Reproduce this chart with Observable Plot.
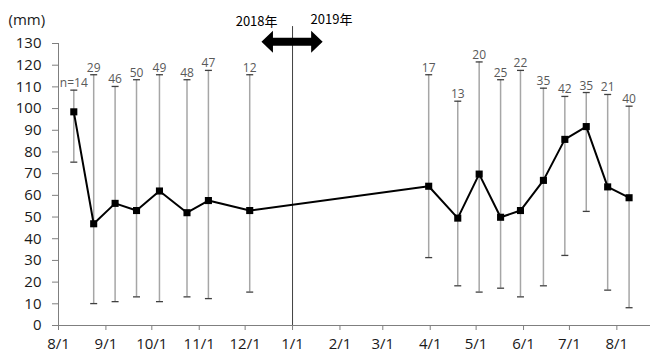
<!DOCTYPE html>
<html>
<head>
<meta charset="utf-8">
<script src="https://cdn.jsdelivr.net/npm/d3@7"></script>
<script src="https://cdn.jsdelivr.net/npm/@observablehq/plot@0.6"></script>
<style>
  body { margin: 0; background: #fff; }
</style>
</head>
<body>
<div id="chart"></div>
<script>
// Survey dates, mean depth (mm), range of readings, and number of samples
const dates = ["2018-08-11", "2018-08-24", "2018-09-07", "2018-09-21", "2018-10-06", "2018-10-24",
  "2018-11-07", "2018-12-04", "2019-03-31", "2019-04-19", "2019-05-03", "2019-05-17",
  "2019-05-30", "2019-06-14", "2019-06-28", "2019-07-12", "2019-07-26", "2019-08-09"];
const means = [98.5, 46.9, 56.3, 53.0, 62.0, 52.0, 57.6, 53.0, 64.2, 49.5, 69.8, 49.9,
  53.0, 66.9, 85.8, 91.7, 63.9, 58.9];
const highs = [108.5, 115.6, 110.2, 113.3, 115.6, 113.3, 117.6, 115.6, 115.6, 103.4, 121.5, 113.3,
  117.6, 109.4, 105.6, 107.4, 106.5, 101.1];
const lows = [75.3, 10.1, 11.0, 13.2, 11.0, 13.2, 12.4, 15.4, 31.3, 18.3, 15.4, 17.2,
  13.2, 18.3, 32.3, 52.6, 16.3, 8.2];
const counts = ["n=14", "29", "46", "50", "49", "48", "47", "12", "17", "13", "20", "25",
  "22", "35", "42", "35", "21", "40"];

// Axis ticks
const monthTicks = ["2018-08-01", "2018-09-01", "2018-10-01", "2018-11-01", "2018-12-01",
  "2019-01-01", "2019-02-01", "2019-03-01", "2019-04-01", "2019-05-01", "2019-06-01",
  "2019-07-01", "2019-08-01"];
const yTicks = [0, 10, 20, 30, 40, 50, 60, 70, 80, 90, 100, 110, 120, 130];

// Year boundary annotation
const yearBoundary = "2019-01-01";
const yearLabels = ["2018年", "2019年"];
const arrowSpan = ["2018-12-12", "2019-01-21"];
const arrowLevel = 130.6;

const parse = d3.utcParse("%Y-%m-%d");
const rows = dates.map((d, i) => ({
  date: parse(d), mean: means[i], high: highs[i], low: lows[i], n: counts[i]
}));
const domainX = [parse("2018-08-01"), parse("2019-08-23")];

// Short horizontal cap for the ends of the range bars
const capSymbol = {
  draw(ctx) { ctx.moveTo(-3.5, 0); ctx.lineTo(3.5, 0); }
};

// Solid double-headed arrow between two dates
function doubleArrow(index, scales) {
  const xa = scales.x(parse(arrowSpan[0]));
  const xb = scales.x(parse(arrowSpan[1]));
  const y = scales.y(arrowLevel);
  const head = 11.5, hh = 11, sh = 4;
  const path = d3.path();
  path.moveTo(xa, y);
  path.lineTo(xa + head, y - hh);
  path.lineTo(xa + head, y - sh);
  path.lineTo(xb - head, y - sh);
  path.lineTo(xb - head, y - hh);
  path.lineTo(xb, y);
  path.lineTo(xb - head, y + hh);
  path.lineTo(xb - head, y + sh);
  path.lineTo(xa + head, y + sh);
  path.lineTo(xa + head, y + hh);
  path.closePath();
  const el = document.createElementNS("http://www.w3.org/2000/svg", "path");
  el.setAttribute("d", path.toString());
  el.setAttribute("fill", "#000");
  return el;
}

const chart = Plot.plot({
  width: 650,
  height: 352,
  marginLeft: 58,
  marginRight: 0,
  marginTop: 43,
  marginBottom: 27,
  style: { fontFamily: "'Open Sans', sans-serif", background: "#fff", overflow: "visible" },
  x: { type: "utc", domain: domainX },
  y: { domain: [0, 130] },
  marks: [
    Plot.axisY({ ticks: yTicks, tickSize: 6, tickPadding: 11, fontSize: 15, label: null,
      stroke: "#7f7f7f", fill: "#1a1a1a" }),
    Plot.axisX({ ticks: monthTicks.map(parse), tickFormat: d3.utcFormat("%-m/%-d"),
      tickSize: 5, tickPadding: 8, fontSize: 15, label: null, stroke: "#7f7f7f", fill: "#1a1a1a" }),
    Plot.ruleY([0], { stroke: "#7f7f7f" }),
    Plot.ruleX([domainX[0]], { y1: 0, y2: 130, stroke: "#7f7f7f" }),
    Plot.text(["(mm)"], { frameAnchor: "top-left", dx: -50, dy: -23, textAnchor: "start",
      lineAnchor: "middle", fontSize: 15, fill: "#1a1a1a" }),

    // year boundary
    Plot.ruleX([parse(yearBoundary)], { y1: 0, y2: 137.8, stroke: "#404040", strokeWidth: 1 }),
    Plot.text([yearLabels[0]], { x: () => parse(yearBoundary), y: () => 140, dx: -15,
      textAnchor: "end", lineAnchor: "middle", fontSize: 13,
      fontFamily: "'Noto Sans CJK JP', sans-serif", fill: "#000" }),
    Plot.text([yearLabels[1]], { x: () => parse(yearBoundary), y: () => 141, dx: 18,
      textAnchor: "start", lineAnchor: "middle", fontSize: 13,
      fontFamily: "'Noto Sans CJK JP', sans-serif", fill: "#000" }),
    doubleArrow,

    // range bars
    Plot.ruleX(rows, { x: "date", y1: "low", y2: "high", stroke: "#a6a6a6", strokeWidth: 1.5 }),
    Plot.dot(rows, { x: "date", y: "high", symbol: capSymbol, stroke: "#404040", strokeWidth: 1.3, r: 4 }),
    Plot.dot(rows, { x: "date", y: "low", symbol: capSymbol, stroke: "#404040", strokeWidth: 1.3, r: 4 }),

    // means
    Plot.line(rows, { x: "date", y: "mean", stroke: "#000", strokeWidth: 2 }),
    Plot.dot(rows, { x: "date", y: "mean", symbol: "square", fill: "#000", r: 4 }),

    // sample counts
    Plot.text(rows, { x: "date", y: "high", text: "n", dy: -3, lineAnchor: "bottom",
      fill: "#595959", fontSize: 12 })
  ]
});

document.getElementById("chart").append(chart);
</script>
</body>
</html>
